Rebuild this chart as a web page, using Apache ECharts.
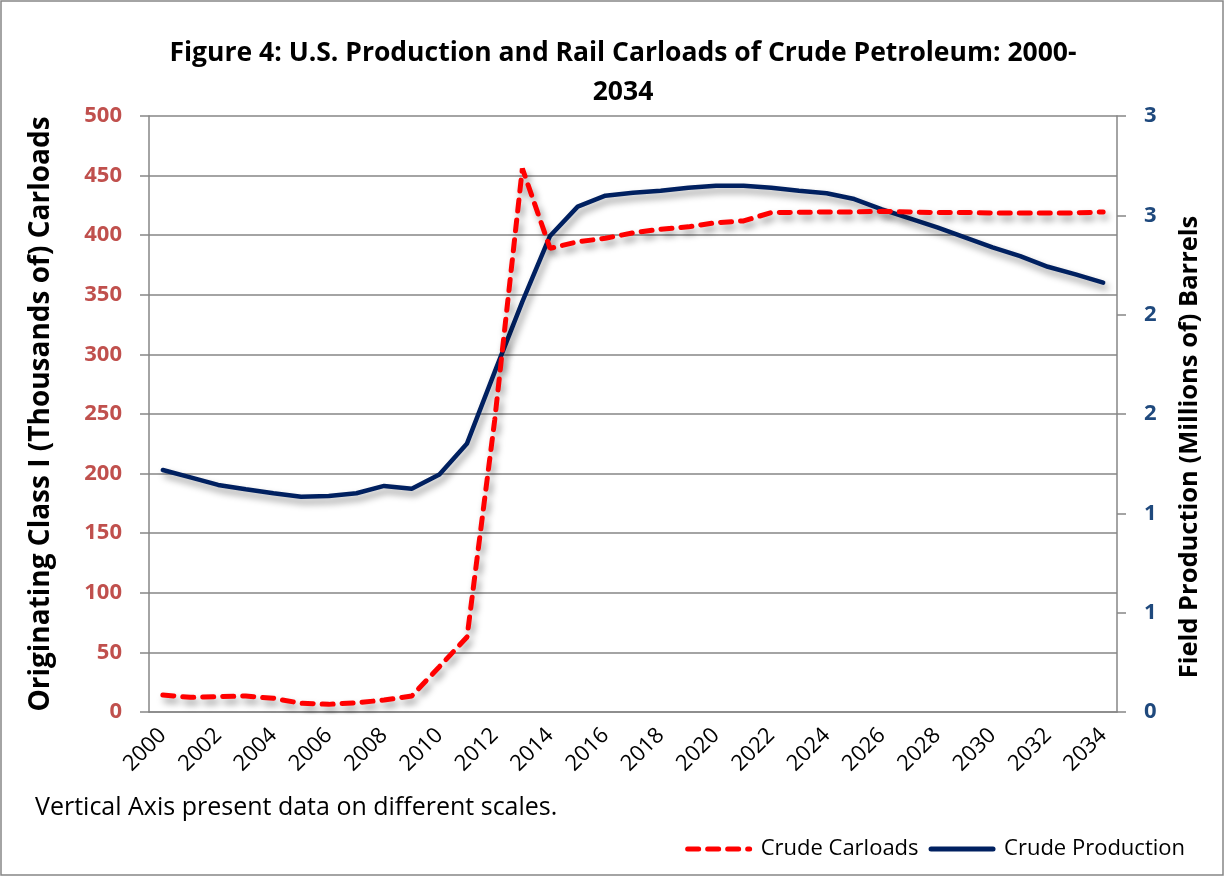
<!DOCTYPE html>
<html>
<head>
<meta charset="utf-8">
<script src="https://cdn.jsdelivr.net/npm/echarts@6/dist/echarts.min.js"></script>
<style>
html, body { margin: 0; padding: 0; background: #fff; }
#chart { width: 1225px; height: 877px; }
</style>
</head>
<body>
<div id="chart"></div>
<script>
// years on the category axis
const years = [];
for (let y = 2000; y <= 2034; y++) years.push(String(y));

// originating class I carloads, thousands (left axis)
const carloads = [14.3, 12.3, 12.8, 13.4, 11.5, 7.3, 6.4, 7.8, 10, 13.4,
    38, 63, 245, 456, 389, 394.5, 397.4, 402, 405, 407,
    410.5, 412, 419, 419.2, 419.5, 419.5, 420, 419.5, 419, 419,
    418.7, 418.7, 418.7, 418.7, 419.5];

// field production, millions of barrels (right axis)
const production = [1.218, 1.181, 1.143, 1.121, 1.101, 1.084, 1.087, 1.101, 1.138, 1.124,
    1.196, 1.352, 1.712, 2.066, 2.396, 2.544, 2.599, 2.614, 2.624, 2.639,
    2.649, 2.649, 2.639, 2.624, 2.611, 2.582, 2.530, 2.485, 2.439, 2.389,
    2.339, 2.295, 2.241, 2.203, 2.161];

const FONT = "'Open Sans', sans-serif";
const GRAY = '#868686';

const shadow = {
    shadowColor: 'rgba(0,0,0,0.4)',
    shadowBlur: 7,
    shadowOffsetX: 3,
    shadowOffsetY: 5
};

const option = {
    backgroundColor: '#fff',
    animation: false,
    textStyle: { fontFamily: FONT },
    title: {
        text: 'Figure 4: U.S. Production and Rail Carloads of Crude Petroleum: 2000-\n2034',
        left: 618,
        top: 29,
        textAlign: 'center',
        textStyle: {
            fontFamily: FONT,
            fontSize: 26.5,
            fontWeight: 'bold',
            color: '#000',
            lineHeight: 39
        }
    },
    legend: {
        right: 35,
        top: 833,
        itemWidth: 62,
        itemHeight: 14,
        itemGap: 10,
        itemStyle: { opacity: 0 },
        lineStyle: { width: 5 },
        textStyle: { fontFamily: FONT, fontSize: 22, color: '#000', padding: [0, 0, 0, 6] },
        data: ['Crude Carloads', 'Crude Production']
    },
    grid: {
        left: 149,
        right: 108,
        top: 116,
        bottom: 165
    },
    xAxis: {
        type: 'category',
        data: years,
        boundaryGap: true,
        axisLine: { lineStyle: { color: GRAY, width: 1.5 } },
        axisTick: { interval: 1, length: 8, lineStyle: { color: GRAY, width: 1.5 } },
        axisLabel: {
            interval: 1,
            rotate: 45,
            margin: 20,
            fontFamily: FONT,
            fontSize: 22,
            color: '#000'
        }
    },
    yAxis: [{
        type: 'value',
        min: 0,
        max: 500,
        interval: 50,
        name: 'Originating Class I (Thousands of) Carloads',
        nameLocation: 'middle',
        nameRotate: 90,
        nameGap: 94,
        nameTextStyle: { fontFamily: FONT, fontSize: 28, fontWeight: 'bold', color: '#000' },
        axisLine: { show: true, lineStyle: { color: GRAY, width: 1.5 } },
        axisTick: { show: true, length: 9, lineStyle: { color: GRAY, width: 1.5 } },
        splitLine: { lineStyle: { color: GRAY, width: 1.5 } },
        axisLabel: {
            margin: 27,
            fontFamily: FONT,
            fontSize: 22,
            fontWeight: 'bold',
            color: '#c0504d'
        }
    }, {
        type: 'value',
        min: 0,
        max: 3,
        interval: 0.5,
        position: 'right',
        axisLine: { show: true, lineStyle: { color: GRAY, width: 1.5 } },
        axisTick: { show: true, length: 9, lineStyle: { color: GRAY, width: 1.5 } },
        splitLine: { show: false },
        axisLabel: {
            margin: 27,
            fontFamily: FONT,
            fontSize: 22,
            fontWeight: 'bold',
            color: '#1f497d',
            formatter: function (v) { return String(Math.round(v)); }
        }
    }],
    graphic: [{
        type: 'rect',
        silent: true,
        shape: { x: 1, y: 1, width: 1222, height: 874 },
        style: { fill: 'none', stroke: GRAY, lineWidth: 1.5 }
    }, {
        type: 'text',
        left: 35,
        top: 795,
        style: {
            text: 'Vertical Axis present data on different scales.',
            font: '25px ' + FONT,
            fill: '#000'
        }
    }, {
        type: 'text',
        x: 1190,
        y: 447,
        rotation: Math.PI / 2,
        style: {
            text: 'Field Production (Millions of) Barrels',
            font: 'bold 25.5px ' + FONT,
            fill: '#000',
            align: 'center',
            verticalAlign: 'middle'
        }
    }],
    series: [{
        name: 'Crude Carloads',
        type: 'line',
        yAxisIndex: 0,
        data: carloads,
        symbol: 'none',
        z: 3,
        color: '#ff0000',
        lineStyle: Object.assign({
            color: '#ff0000',
            width: 5,
            type: [11, 9],
            cap: 'round'
        }, shadow)
    }, {
        name: 'Crude Production',
        type: 'line',
        yAxisIndex: 1,
        data: production,
        symbol: 'none',
        z: 2,
        color: '#002060',
        lineStyle: Object.assign({
            color: '#002060',
            width: 4.5,
            cap: 'round'
        }, shadow)
    }]
};

const myChart = echarts.init(document.getElementById('chart'));
myChart.setOption(option);
</script>
</body>
</html>
